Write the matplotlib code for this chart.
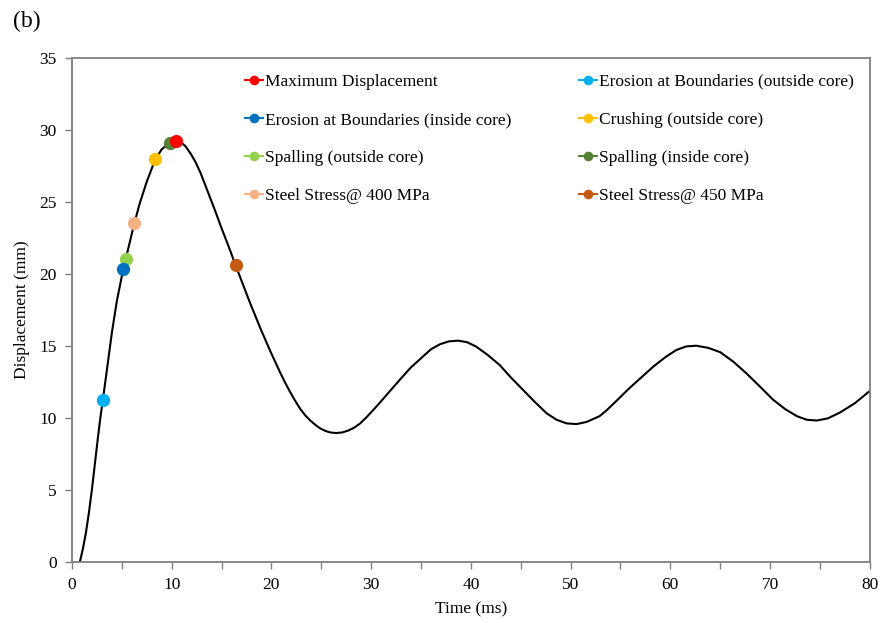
import matplotlib
matplotlib.use("Agg")
import matplotlib.pyplot as plt
from matplotlib.ticker import MultipleLocator

# Displacement–time history (ms, mm)
time_ms = [0.8, 1.1, 1.4, 1.7, 2.0, 2.3, 2.6, 2.85, 3.1, 3.5, 4.0, 4.5, 5.15, 5.4,
           5.8, 6.25, 6.8, 7.5, 8.35, 9.0, 9.8, 10.4, 10.9, 11.4, 11.9, 12.4, 12.9,
           13.4, 13.9, 14.4, 14.9, 15.4, 15.9, 16.4, 16.9, 17.4, 17.9, 18.4, 18.9,
           19.4, 19.9, 20.4, 20.9, 21.4, 21.9, 22.4, 22.9, 23.4, 23.9, 24.4, 24.9,
           25.4, 25.9, 26.5, 27.1, 27.7, 28.3, 28.9, 29.5, 30.1, 30.7, 31.7, 32.9,
           34.0, 35.2, 36.0, 36.9, 37.8, 38.7, 39.6, 40.5, 41.7, 42.9, 44.0, 45.2,
           46.4, 47.6, 48.6, 49.6, 50.6, 51.6, 52.9, 53.6, 54.8, 55.9, 57.1, 58.3,
           59.5, 60.6, 61.6, 62.6, 63.8, 65.0, 66.3, 67.6, 69.0, 70.3, 71.5, 72.7,
           73.7, 74.7, 75.8, 77.0, 78.5, 80.0]
displacement_mm = [0.0, 0.9, 2.0, 3.4, 5.0, 6.8, 8.6, 10.0, 11.25, 13.3, 15.9, 18.1,
                   20.35, 21.05, 22.2, 23.5, 24.9, 26.4, 27.95, 28.65, 29.1, 29.25,
                   29.15, 28.85, 28.35, 27.75, 27.0, 26.1, 25.2, 24.3, 23.35, 22.45,
                   21.55, 20.6, 19.7, 18.8, 17.9, 17.05, 16.2, 15.4, 14.6, 13.85, 13.1,
                   12.4, 11.75, 11.15, 10.6, 10.15, 9.8, 9.5, 9.25, 9.08, 8.97, 8.93,
                   8.97, 9.1, 9.3, 9.6, 10.0, 10.45, 10.9, 11.7, 12.65, 13.5, 14.25,
                   14.75, 15.1, 15.3, 15.35, 15.25, 14.95, 14.35, 13.65, 12.8, 11.95,
                   11.1, 10.3, 9.85, 9.6, 9.55, 9.7, 10.1, 10.5, 11.3, 12.05, 12.8,
                   13.55, 14.2, 14.7, 14.95, 15.0, 14.85, 14.55, 13.9, 13.1, 12.15,
                   11.25, 10.6, 10.1, 9.85, 9.8, 9.95, 10.35, 11.0, 11.85]

# Damage events along the response
event_labels = ["Maximum Displacement",
                "Erosion at Boundaries (outside core)",
                "Erosion at Boundaries (inside core)",
                "Crushing (outside core)",
                "Spalling (outside core)",
                "Spalling (inside core)",
                "Steel Stress@ 400 MPa",
                "Steel Stress@ 450 MPa"]
event_time = [10.4, 3.1, 5.15, 8.35, 5.4, 9.8, 6.25, 16.4]
event_disp = [29.25, 11.25, 20.35, 27.95, 21.05, 29.1, 23.5, 20.6]
event_colors = ["#FF0000", "#00B0F0", "#0070C0", "#FFC000",
                "#92D050", "#548235", "#F4B183", "#C55A11"]

plt.rcParams["font.family"] = ["Liberation Serif", "DejaVu Serif"]

fig = plt.figure(figsize=(8.83, 6.23), dpi=100)
ax = fig.add_axes([0.0815, 0.0987, 0.9035, 0.8083])

ax.plot(time_ms, displacement_mm, color="black", lw=1.5, zorder=2,
        solid_joinstyle="round")

hmap = {}
draw_order = [6, 4, 2, 1, 3, 7, 5, 0]
for i in draw_order:
    h, = ax.plot([event_time[i]], [event_disp[i]], marker="o", ms=8.5, ls="-",
                 lw=1.5, color=event_colors[i], mec=event_colors[i], zorder=3,
                 label=event_labels[i])
    hmap[i] = h

# two columns, filled column by column
order = [0, 2, 4, 6, 1, 3, 5, 7]
leg = ax.legend([hmap[i] for i in order], [event_labels[i] for i in order],
                ncol=2, loc="upper right", bbox_to_anchor=(1.0, 1.0),
                frameon=False, fontsize=12.5, markerscale=0.7,
                handlelength=1.0, handletextpad=0.15, labelspacing=1.27,
                columnspacing=3.9, borderaxespad=0.5)

ax.set_xlim(0, 80)
ax.set_ylim(0, 35)
ax.xaxis.set_major_locator(MultipleLocator(10))
ax.xaxis.set_minor_locator(MultipleLocator(5))
ax.yaxis.set_major_locator(MultipleLocator(5))

spine_color = "#7f7f7f"
for s in ax.spines.values():
    s.set_color(spine_color)
    s.set_linewidth(1.3)
ax.tick_params(which="both", direction="out", length=5, width=1.0,
               color=spine_color, labelsize=12.5, pad=6)
ax.tick_params(axis="x", which="minor", length=5)

ax.set_xlabel("Time (ms)", fontsize=12.5, labelpad=6)
ax.set_ylabel("Displacement (mm)", fontsize=12.5, labelpad=7)

fig.text(0.015, 0.965, "(b)", fontsize=17, ha="left", va="center")

fig.savefig("out.png", dpi=100)
